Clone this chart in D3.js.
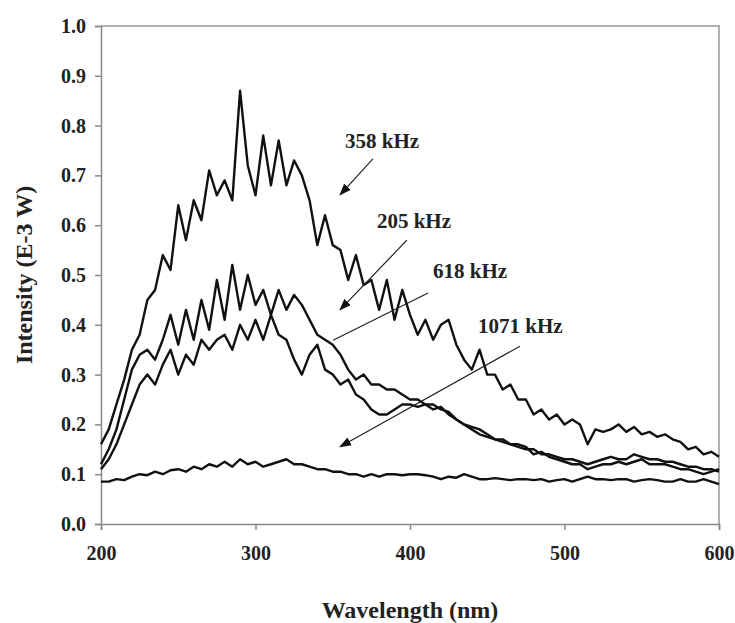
<!DOCTYPE html>
<html>
<head>
<meta charset="utf-8">
<script src="https://cdn.jsdelivr.net/npm/d3@7"></script>
<style>
  body { margin: 0; background: #fff; }
</style>
</head>
<body>
<div id="chart"></div>
<script>
// wavelength grid (nm)
const wavelengths = [
  200, 205, 210, 215, 220, 225, 230, 235, 240, 245,
  250, 255, 260, 265, 270, 275, 280, 285, 290, 295,
  300, 305, 310, 315, 320, 325, 330, 335, 340, 345,
  350, 355, 360, 365, 370, 375, 380, 385, 390, 395,
  400, 405, 410, 415, 420, 425, 430, 435, 440, 445,
  450, 455, 460, 465, 470, 475, 480, 485, 490, 495,
  500, 505, 510, 515, 520, 525, 530, 535, 540, 545,
  550, 555, 560, 565, 570, 575, 580, 585, 590, 595,
  600
];

// intensity (E-3 W)
const intensity358 = [
  0.16, 0.19, 0.24, 0.29, 0.35, 0.38, 0.45, 0.47, 0.54, 0.51,
  0.64, 0.57, 0.65, 0.61, 0.71, 0.66, 0.69, 0.65, 0.87, 0.72,
  0.66, 0.78, 0.68, 0.77, 0.68, 0.73, 0.70, 0.65, 0.56, 0.62,
  0.56, 0.55, 0.49, 0.54, 0.48, 0.49, 0.43, 0.49, 0.41, 0.47,
  0.42, 0.38, 0.41, 0.37, 0.40, 0.41, 0.36, 0.33, 0.31, 0.35,
  0.30, 0.30, 0.27, 0.28, 0.25, 0.25, 0.22, 0.23, 0.21, 0.22,
  0.20, 0.21, 0.20, 0.16, 0.19, 0.185, 0.19, 0.20, 0.185, 0.195,
  0.18, 0.185, 0.175, 0.18, 0.17, 0.165, 0.15, 0.155, 0.14, 0.145,
  0.135
];

const intensity205 = [
  0.12, 0.15, 0.19, 0.25, 0.31, 0.34, 0.35, 0.33, 0.37, 0.42,
  0.36, 0.43, 0.37, 0.45, 0.39, 0.49, 0.41, 0.52, 0.43, 0.50,
  0.44, 0.47, 0.42, 0.47, 0.43, 0.46, 0.44, 0.41, 0.38, 0.37,
  0.36, 0.34, 0.31, 0.29, 0.30, 0.28, 0.28, 0.27, 0.27, 0.26,
  0.25, 0.25, 0.24, 0.24, 0.23, 0.225, 0.21, 0.20, 0.195, 0.19,
  0.18, 0.17, 0.17, 0.16, 0.16, 0.155, 0.14, 0.145, 0.135, 0.13,
  0.125, 0.12, 0.12, 0.11, 0.115, 0.12, 0.12, 0.125, 0.12, 0.125,
  0.13, 0.12, 0.12, 0.12, 0.115, 0.11, 0.11, 0.105, 0.10, 0.105,
  0.11
];

const intensity618 = [
  0.11, 0.13, 0.16, 0.20, 0.24, 0.28, 0.30, 0.28, 0.32, 0.35,
  0.30, 0.34, 0.32, 0.37, 0.35, 0.37, 0.38, 0.35, 0.40, 0.37,
  0.41, 0.37, 0.42, 0.38, 0.37, 0.33, 0.30, 0.34, 0.36, 0.31,
  0.30, 0.28, 0.29, 0.26, 0.25, 0.23, 0.22, 0.22, 0.23, 0.24,
  0.24, 0.235, 0.24, 0.23, 0.235, 0.22, 0.21, 0.20, 0.19, 0.18,
  0.175, 0.17, 0.165, 0.16, 0.155, 0.15, 0.15, 0.14, 0.14, 0.135,
  0.13, 0.13, 0.125, 0.12, 0.125, 0.13, 0.135, 0.13, 0.13, 0.14,
  0.135, 0.13, 0.13, 0.125, 0.125, 0.12, 0.115, 0.115, 0.11, 0.11,
  0.105
];

const intensity1071 = [
  0.085, 0.085, 0.09, 0.088, 0.095, 0.10, 0.098, 0.105, 0.10, 0.108,
  0.11, 0.105, 0.115, 0.11, 0.12, 0.115, 0.125, 0.115, 0.13, 0.12,
  0.125, 0.115, 0.12, 0.125, 0.13, 0.12, 0.12, 0.115, 0.11, 0.11,
  0.105, 0.105, 0.10, 0.10, 0.095, 0.10, 0.095, 0.10, 0.10, 0.098,
  0.10, 0.10, 0.098, 0.095, 0.09, 0.095, 0.093, 0.10, 0.095, 0.09,
  0.09, 0.092, 0.09, 0.088, 0.09, 0.09, 0.088, 0.09, 0.085, 0.088,
  0.09, 0.085, 0.09, 0.095, 0.09, 0.09, 0.088, 0.09, 0.09, 0.085,
  0.088, 0.09, 0.088, 0.085, 0.085, 0.09, 0.085, 0.085, 0.09, 0.085,
  0.08
];

const seriesList = [intensity358, intensity205, intensity618, intensity1071];

const xTicks = [200, 300, 400, 500, 600];
const yTicks = [0, 0.1, 0.2, 0.3, 0.4, 0.5, 0.6, 0.7, 0.8, 0.9, 1.0];

// callout labels: text anchor and leader line, in data units
const callouts = [
  { label: '358 kHz',  text: [358, 0.755], from: [376, 0.733], to: [354.7, 0.661], head: true },
  { label: '205 kHz',  text: [378.6, 0.594], from: [398, 0.570], to: [354.7, 0.430], head: true },
  { label: '618 kHz',  text: [414.9, 0.494], from: [411.7, 0.464], to: [350.2, 0.369], head: false },
  { label: '1071 kHz', text: [444, 0.384], from: [471.2, 0.357], to: [354.7, 0.155], head: true }
];

/**
 * Spectrum chart
 *
 * @class SpectrumChart
 */
class SpectrumChart {

    constructor(selector) {
        this.selector = selector;
        this.width = 735;
        this.height = 623;
        this.margin = { top: 26, right: 16, bottom: 99, left: 101 };
        this.font = '"Liberation Serif", "Times New Roman", serif';
    }

    draw() {
        const m = this.margin;
        const w = this.width - m.left - m.right;
        const h = this.height - m.top - m.bottom;

        const svg = d3.select(this.selector).append('svg')
            .attr('width', this.width)
            .attr('height', this.height)
            .style('font-family', this.font);

        svg.append('defs').append('marker')
            .attr('id', 'head')
            .attr('markerUnits', 'userSpaceOnUse')
            .attr('viewBox', '0 0 12 9')
            .attr('markerWidth', 12)
            .attr('markerHeight', 9)
            .attr('refX', 11)
            .attr('refY', 4.5)
            .attr('orient', 'auto')
            .append('path')
            .attr('d', 'M0,0 L12,4.5 L0,9 Z')
            .attr('fill', '#111');

        const g = svg.append('g')
            .attr('transform', `translate(${m.left}, ${m.top})`);

        const x = d3.scaleLinear().domain([200, 600]).range([0, w]);
        const y = d3.scaleLinear().domain([0, 1]).range([h, 0]);

        // frame (top and right)
        g.append('path')
            .attr('d', `M0,0 H${w} V${h}`)
            .attr('fill', 'none')
            .attr('stroke', '#999')
            .attr('stroke-width', 1.5);

        const xAxis = g.append('g')
            .attr('transform', `translate(0, ${h})`)
            .call(d3.axisBottom(x).tickValues(xTicks).tickSize(6).tickPadding(16).tickFormat(d3.format('d')));

        const yAxis = g.append('g')
            .call(d3.axisLeft(y).tickValues(yTicks).tickSize(6).tickPadding(9).tickFormat(d3.format('.1f')));

        [xAxis, yAxis].forEach(ax => {
            ax.select('.domain').attr('stroke', '#888').attr('stroke-width', 1.5);
            ax.selectAll('.tick line').attr('stroke', '#888').attr('stroke-width', 1.5);
            ax.selectAll('.tick text')
                .attr('fill', '#222')
                .style('font-family', this.font)
                .style('font-weight', 'bold')
                .style('font-size', '20px');
        });

        const line = d3.line()
            .x((d, i) => x(wavelengths[i]))
            .y(d => y(d));

        g.append('g').selectAll('path.series')
            .data(seriesList)
            .join('path')
            .attr('class', 'series')
            .attr('d', line)
            .attr('fill', 'none')
            .attr('stroke', '#111')
            .attr('stroke-width', 2.4)
            .attr('stroke-linejoin', 'round');

        // callouts
        const c = g.append('g');
        c.selectAll('line')
            .data(callouts)
            .join('line')
            .attr('x1', d => x(d.from[0]))
            .attr('y1', d => y(d.from[1]))
            .attr('x2', d => x(d.to[0]))
            .attr('y2', d => y(d.to[1]))
            .attr('stroke', '#222')
            .attr('stroke-width', 1.2)
            .attr('marker-end', d => d.head ? 'url(#head)' : null);

        c.selectAll('text')
            .data(callouts)
            .join('text')
            .attr('x', d => x(d.text[0]))
            .attr('y', d => y(d.text[1]))
            .attr('fill', '#222')
            .style('font-weight', 'bold')
            .style('font-size', '21px')
            .text(d => d.label);

        // axis titles
        svg.append('text')
            .attr('x', m.left + w / 2)
            .attr('y', 618)
            .attr('text-anchor', 'middle')
            .attr('fill', '#222')
            .style('font-weight', 'bold')
            .style('font-size', '24px')
            .text('Wavelength (nm)');

        svg.append('text')
            .attr('transform', `translate(32, ${m.top + h / 2}) rotate(-90)`)
            .attr('text-anchor', 'middle')
            .attr('fill', '#222')
            .style('font-weight', 'bold')
            .style('font-size', '24px')
            .text('Intensity (E-3 W)');
    }
}

new SpectrumChart('#chart').draw();
</script>
</body>
</html>
